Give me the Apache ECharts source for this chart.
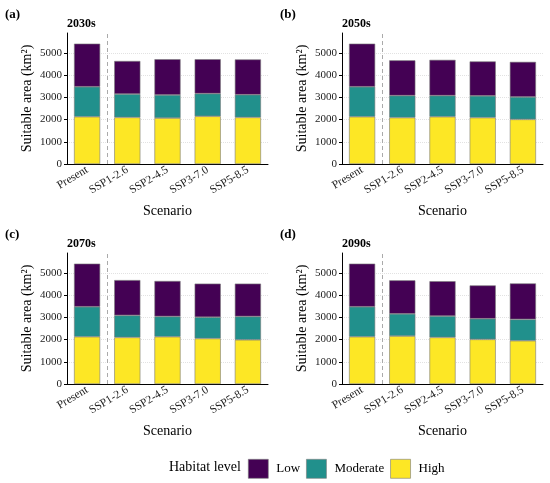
<!DOCTYPE html>
<html>
<head>
<meta charset="utf-8">
<script src="https://cdn.jsdelivr.net/npm/echarts@6/dist/echarts.min.js"></script>
<style>
  html, body { margin: 0; padding: 0; background: #fff; }
  #chart { width: 550px; height: 483px; }
</style>
</head>
<body>
<div id="chart"></div>
<script>
// data (km²), segment values per habitat level
var scenarios = ['Present', 'SSP1-2.6', 'SSP2-4.5', 'SSP3-7.0', 'SSP5-8.5'];
var periods = ['2030s', '2050s', '2070s', '2090s'];
var panelTags = ['(a)', '(b)', '(c)', '(d)'];
var levels = ['Low', 'Moderate', 'High'];
var yTicks = [0, 1000, 2000, 3000, 4000, 5000];
var dividerAt = 0.5; // between Present and the SSP scenarios (category units)

var high2030s = [2130, 2100, 2070, 2150, 2100];
var moderate2030s = [1350, 1050, 1040, 1020, 1020];
var low2030s = [1940, 1490, 1610, 1550, 1590];

var high2050s = [2130, 2090, 2130, 2090, 2010];
var moderate2050s = [1350, 990, 950, 980, 1010];
var low2050s = [1940, 1590, 1610, 1550, 1580];

var high2070s = [2130, 2100, 2130, 2050, 1990];
var moderate2070s = [1350, 990, 910, 960, 1050];
var low2070s = [1940, 1590, 1600, 1510, 1480];

var high2090s = [2130, 2160, 2100, 2010, 1950];
var moderate2090s = [1350, 1000, 960, 930, 960];
var low2090s = [1940, 1510, 1570, 1500, 1620];

var panelData = [
  {High: high2030s, Moderate: moderate2030s, Low: low2030s},
  {High: high2050s, Moderate: moderate2050s, Low: low2050s},
  {High: high2070s, Moderate: moderate2070s, Low: low2070s},
  {High: high2090s, Moderate: moderate2090s, Low: low2090s}
];

var colors = {Low: '#440154', Moderate: '#21908C', High: '#FDE725'};
var font = 'Liberation Serif';

var chart = echarts.init(document.getElementById('chart'));

// panel placement
var lefts = [67, 342, 67, 342];
var tops = [33, 33, 253, 253];

var grids = [], xAxes = [], yAxes = [], series = [], titles = [];

for (var i = 0; i < 4; i++) {
  grids.push({left: lefts[i], top: tops[i], width: 201, height: 131});

  titles.push({
    text: panelTags[i], left: lefts[i] - 62, top: tops[i] - 25, padding: 0,
    textStyle: {fontFamily: font, fontSize: 13, fontWeight: 'bold', color: '#000'}
  });
  titles.push({
    text: periods[i], left: lefts[i], top: tops[i] - 15, padding: 0,
    textStyle: {fontFamily: font, fontSize: 12, fontWeight: 'bold', color: '#000'}
  });

  xAxes.push({
    type: 'category', gridIndex: i, data: scenarios,
    name: 'Scenario', nameLocation: 'middle', nameGap: 40,
    nameTextStyle: {fontFamily: font, fontSize: 14, color: '#000'},
    axisLine: {onZero: false, lineStyle: {color: '#000', width: 1}},
    axisTick: {alignWithLabel: true, length: 3, lineStyle: {color: '#000'}},
    axisLabel: {rotate: 31, margin: 5, fontFamily: font, fontSize: 11.5, color: '#222', interval: 0},
    splitLine: {show: false}
  });

  yAxes.push({
    type: 'value', gridIndex: i, min: 0, max: 5900, interval: 1000,
    name: 'Suitable area (km²)', nameLocation: 'middle', nameGap: 33,
    nameTextStyle: {fontFamily: font, fontSize: 14, color: '#000'},
    axisLine: {show: true, onZero: false, lineStyle: {color: '#000', width: 1}},
    axisTick: {show: true, length: 3, lineStyle: {color: '#000'}},
    axisLabel: {
      fontFamily: font, fontSize: 11, color: '#222', margin: 5, showMaxLabel: false,
      formatter: function (v) { return yTicks.indexOf(v) >= 0 ? String(v) : ''; }
    },
    splitLine: {show: true, showMaxLine: false, lineStyle: {color: '#e2e2e2', type: 'dotted'}}
  });

  ['High', 'Moderate', 'Low'].forEach(function (lv) {
    series.push({
      name: lv, type: 'bar', stack: 'p' + i,
      xAxisIndex: i, yAxisIndex: i,
      barWidth: '65%',
      itemStyle: {color: colors[lv], borderColor: '#7a7a7a', borderWidth: 0.6},
      emphasis: {disabled: true},
      data: panelData[i][lv]
    });
  });
}

// hidden value axes in category units, used for the dashed divider
for (var j = 0; j < 4; j++) {
  xAxes.push({
    type: 'value', gridIndex: j, min: -0.5, max: scenarios.length - 0.5, show: false,
    axisLine: {onZero: false}, splitLine: {show: false}
  });
  series.push({
    name: 'divider' + j, type: 'line', xAxisIndex: 4 + j, yAxisIndex: j,
    data: [], silent: true,
    markLine: {
      silent: true, symbol: 'none', label: {show: false},
      lineStyle: {color: '#aaa', type: [4, 3], width: 1},
      data: [{xAxis: dividerAt}]
    }
  });
}

titles.push({
  text: 'Habitat level', left: 169, top: 460, padding: 0,
  textStyle: {fontFamily: font, fontSize: 14, fontWeight: 'normal', color: '#000'}
});

var option = {
  animation: false,
  title: titles,
  grid: grids,
  xAxis: xAxes,
  yAxis: yAxes,
  legend: {
    data: levels, left: 248, top: 459, orient: 'horizontal', padding: 0,
    icon: 'rect', itemWidth: 20, itemHeight: 19, itemGap: 6,
    itemStyle: {borderColor: '#7a7a7a', borderWidth: 0.6},
    textStyle: {fontFamily: font, fontSize: 13, color: '#000', padding: [0, 0, 0, 3]}
  },
  series: series
};

chart.setOption(option);
</script>
</body>
</html>
